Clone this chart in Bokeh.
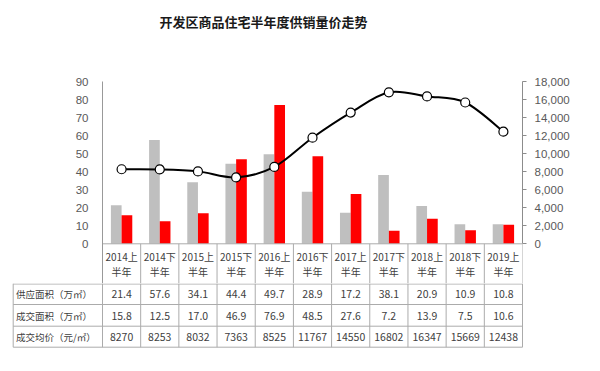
import numpy as np
from bokeh.plotting import figure
from bokeh.models import Range1d, LinearAxis, FixedTicker, NumeralTickFormatter
from bokeh.core.properties import value
from bokeh.embed import file_html
from bokeh.resources import INLINE

# ---------------- data ----------------
title_text = "开发区商品住宅半年度供销量价走势"
periods = ["2014上", "2014下", "2015上", "2015下", "2016上", "2016下",
           "2017上", "2017下", "2018上", "2018下", "2019上"]
period_suffix = "半年"
supply = [21.4, 57.6, 34.1, 44.4, 49.7, 28.9, 17.2, 38.1, 20.9, 10.9, 10.8]
deal = [15.8, 12.5, 17.0, 46.9, 76.9, 48.5, 27.6, 7.2, 13.9, 7.5, 10.6]
price = [8270, 8253, 8032, 7363, 8525, 11767, 14550, 16802, 16347, 15669, 12438]
row_labels = ["供应面积（万㎡）", "成交面积（万㎡）", "成交均价（元/㎡）"]
left_ticks = list(range(0, 91, 10))
right_ticks = list(range(0, 18001, 2000))

# ---------------- layout ----------------
W, H = 600, 371
TITLE_H = 41
FRAME_L, FRAME_R, FRAME_T = 102, 522, 81
ZERO_PX = 243.3
TOP_H = 283
n = len(periods)
xc = np.arange(n) + 0.5
ppc = (FRAME_R - FRAME_L) / n
ppu = (ZERO_PX - FRAME_T) / 90.0
y0 = -(TOP_H - ZERO_PX) / ppu
ratio = 18000 / 90.0

CJK = "Noto Sans CJK SC"
LAT = "Liberation Sans"
GRID = "#ABABAB"
TXT = "#404040"


def bare(fig):
    fig.outline_line_color = None
    fig.xgrid.visible = False
    fig.ygrid.visible = False
    return fig


# ---------------- title strip ----------------
p0 = bare(figure(width=W, height=TITLE_H, frame_width=W, frame_height=TITLE_H,
                 x_range=Range1d(0, W), y_range=Range1d(TITLE_H, 0),
                 min_border_left=0, min_border_right=0, min_border_top=0, min_border_bottom=0,
                 toolbar_location=None, output_backend="svg",
                 x_axis_location=None, y_axis_location=None))
p0.text(x=[263], y=[21], text=[title_text], text_font=value(CJK),
        text_font_size="13px", text_font_style="bold", text_color="#1a1a1a",
        text_align="center", text_baseline="middle")

# ---------------- chart ----------------
p1 = bare(figure(width=W, height=TOP_H - TITLE_H, x_range=Range1d(0, n), y_range=Range1d(y0, 90),
                 frame_width=FRAME_R - FRAME_L, frame_height=TOP_H - FRAME_T,
                 min_border_left=FRAME_L, min_border_right=W - FRAME_R,
                 min_border_top=FRAME_T - TITLE_H, min_border_bottom=0,
                 toolbar_location=None, output_backend="svg", x_axis_location=None))

ya = p1.yaxis[0]
ya.ticker = FixedTicker(ticks=left_ticks)
ya.major_tick_out = 0
ya.major_tick_in = 0
ya.minor_tick_out = 0
ya.minor_tick_in = 0
ya.axis_line_color = "#999999"
ya.major_label_standoff = 14
ya.major_label_text_font = LAT
ya.major_label_text_font_size = "11.5px"
ya.major_label_text_color = "#595959"

p1.extra_y_ranges = {"price": Range1d(y0 * ratio, 18000)}
ra = LinearAxis(y_range_name="price", ticker=FixedTicker(ticks=right_ticks),
                formatter=NumeralTickFormatter(format="0,0"), bounds=(0, 18000))
ra.major_tick_out = 4
ra.major_tick_in = 0
ra.minor_tick_out = 0
ra.minor_tick_in = 0
ra.axis_line_color = "#8C8C8C"
ra.major_tick_line_color = "#8C8C8C"
ra.major_label_standoff = 8
ra.major_label_text_font = LAT
ra.major_label_text_font_size = "11.5px"
ra.major_label_text_color = "#595959"
p1.add_layout(ra, "right")

# bars
p1.vbar(x=xc - 0.14, top=supply, width=0.28, fill_color="#BFBFBF", line_color=None)
p1.vbar(x=xc + 0.14, top=deal, width=0.28, fill_color="#FF0000", line_color=None)

# smoothed price line (Catmull-Rom rendered as cubic Bezier segments)
px = np.asarray(xc, dtype=float)
py = np.asarray(price, dtype=float)
xe = np.concatenate([[px[0]], px, [px[-1]]])
ye = np.concatenate([[py[0]], py, [py[-1]]])
bx0, by0, bx1, by1, bcx0, bcy0, bcx1, bcy1 = ([] for _ in range(8))
for i in range(n - 1):
    bx0.append(px[i]); by0.append(py[i])
    bx1.append(px[i + 1]); by1.append(py[i + 1])
    bcx0.append(px[i] + (xe[i + 2] - xe[i]) / 6.0)
    bcy0.append(py[i] + (ye[i + 2] - ye[i]) / 6.0)
    bcx1.append(px[i + 1] - (xe[i + 3] - xe[i + 1]) / 6.0)
    bcy1.append(py[i + 1] - (ye[i + 3] - ye[i + 1]) / 6.0)
p1.bezier(x0=bx0, y0=by0, x1=bx1, y1=by1, cx0=bcx0, cy0=bcy0, cx1=bcx1, cy1=bcy1,
          line_color="black", line_width=2, y_range_name="price")
p1.scatter(x=xc, y=price, size=9, fill_color="white", line_color="black",
           line_width=1.2, y_range_name="price")

# header row of table (category labels)
bounds = np.arange(n + 1)
p1.segment(x0=bounds, y0=[y0] * (n + 1), x1=bounds, y1=[0] * (n + 1),
           line_color=GRID, line_width=1)
p1.segment(x0=[0], y0=[0], x1=[n], y1=[0], line_color=GRID, line_width=1)
p1.text(x=xc, y=[(ZERO_PX - 256.0) / ppu] * n, text=periods,
        text_font=value(CJK), text_font_size="10px", text_color=TXT,
        text_align="center", text_baseline="middle")
p1.text(x=xc, y=[(ZERO_PX - 271.0) / ppu] * n, text=[period_suffix] * n,
        text_font=value(CJK), text_font_size="10px", text_color=TXT,
        text_align="center", text_baseline="middle")

# ---------------- table body ----------------
BH = H - TOP_H
p2 = bare(figure(width=W, height=BH, frame_width=W, frame_height=BH,
                 x_range=Range1d(-FRAME_L / ppc, (W - FRAME_L) / ppc),
                 y_range=Range1d(BH, 0),
                 min_border_left=0, min_border_right=0, min_border_top=0, min_border_bottom=0,
                 toolbar_location=None, output_backend="svg",
                 x_axis_location=None, y_axis_location=None))

row_lines = [0.5, 21.0, 42.7, 63.7]
row_mid = [10.5, 32.0, 53.7]
tbl_left = (12.7 - FRAME_L) / ppc
lbl_x = (15.5 - FRAME_L) / ppc

p2.segment(x0=[tbl_left] * 4, y0=row_lines, x1=[n] * 4, y1=row_lines,
           line_color=GRID, line_width=1)
vx = [tbl_left] + list(bounds)
p2.segment(x0=vx, y0=[0] * len(vx), x1=vx, y1=[row_lines[-1]] * len(vx),
           line_color=GRID, line_width=1)

p2.text(x=[lbl_x] * 3, y=row_mid, text=row_labels, text_font=value(CJK),
        text_font_size="9.5px", text_color=TXT, text_align="left", text_baseline="middle")

rows = [["%.1f" % v for v in supply], ["%.1f" % v for v in deal], ["%d" % v for v in price]]
for r, vals in enumerate(rows):
    p2.text(x=xc, y=[row_mid[r]] * n, text=vals, text_font=value(CJK),
            text_font_size="10.5px", text_color=TXT, text_align="center",
            text_baseline="middle")

open("out.html", "w").write(file_html([p0, p1, p2], INLINE))
